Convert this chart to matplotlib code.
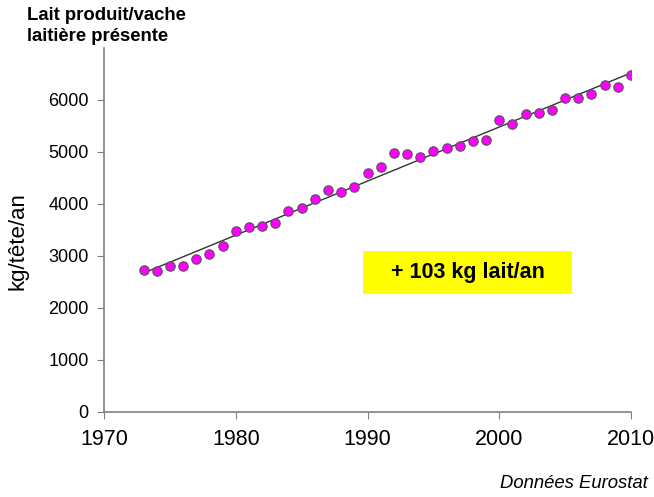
import numpy as np
import matplotlib
matplotlib.use("Agg")
import matplotlib.pyplot as plt
from matplotlib.patches import Rectangle

plt.rcParams['font.family'] = ['Liberation Sans', 'DejaVu Sans']

years = list(range(1973, 2011))
milk = [2728, 2702, 2817, 2817, 2939, 3034, 3193, 3486, 3562, 3582,
        3633, 3868, 3920, 4098, 4277, 4239, 4321, 4592, 4707, 4977,
        4958, 4901, 5010, 5080, 5118, 5207, 5233, 5616, 5539, 5723,
        5755, 5807, 6029, 6042, 6124, 6291, 6258, 6482]
x_ticks = [1970, 1980, 1990, 2000, 2010]
y_ticks = [0, 1000, 2000, 3000, 4000, 5000, 6000]

fig = plt.figure(figsize=(6.54, 4.97), dpi=100)
ax = fig.add_axes([104/654, 1-412/497, (631-104)/654, (412-48)/497])

x = np.array(years)
y = np.array(milk)
coef = np.polyfit(x, y, 1)
ax.plot(x, np.polyval(coef, x), color='#333333', lw=1.0, zorder=2)
ax.scatter(x, y, s=46, c='#FF00FF', edgecolors='#555555', linewidths=0.8, zorder=3)

ax.set_xlim(1970, 2010)
ax.set_ylim(0, 7000)
ax.set_xticks(x_ticks)
ax.set_yticks(y_ticks)
ax.tick_params(axis='x', labelsize=15.5, direction='out', length=5, color='#808080', pad=7)
ax.tick_params(axis='y', labelsize=13, direction='out', length=5, color='#808080', pad=6)
for s in ['top', 'right']:
    ax.spines[s].set_visible(False)
for s in ['left', 'bottom']:
    ax.spines[s].set_color('#808080')
    ax.spines[s].set_linewidth(1.2)

ax.set_ylabel('kg/tête/an', fontsize=16)
ax.yaxis.set_label_coords(-(104 - 29) / (631 - 104), 0.47)

ax.add_patch(Rectangle((1989.66, 2275), 2005.52 - 1989.66, 3097 - 2275,
                       facecolor='#FFFF00', edgecolor='none', zorder=1))
ax.text((1989.66 + 2005.52) / 2, (2275 + 3097) / 2, '+ 103 kg lait/an',
        ha='center', va='center', fontsize=15.5, fontweight='bold', zorder=4)

fig.text(27/654, 1-7/497, 'Lait produit/vache\nlaitière présente', ha='left', va='top',
         fontsize=13.3, fontweight='bold', linespacing=1.3)
fig.text(648/654, 1-484/497, 'Données Eurostat', ha='right', va='center',
         fontsize=13.3, style='italic')

fig.savefig('out.png', dpi=100)
